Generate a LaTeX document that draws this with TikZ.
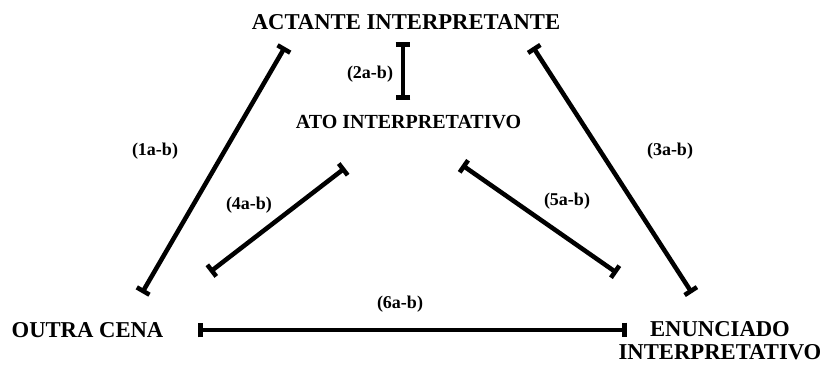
\documentclass[tikz,border=0pt]{standalone}
\usepackage{fontspec}
\setmainfont{Liberation Serif}
\usetikzlibrary{arrows.meta}

\begin{document}
\begin{tikzpicture}[x=0.75pt,y=-0.75pt,
  big/.style={font=\fontsize{17}{17.25}\selectfont\bfseries,inner sep=0pt},
  mid/.style={font=\fontsize{15}{17}\selectfont\bfseries,inner sep=0pt},
  lab/.style={font=\fontsize{13.5}{15}\selectfont\bfseries,inner sep=0pt},
  link/.style={line width=3.4pt,{Bar[width=11pt]}-{Bar[width=11pt]}}]
  \useasboundingbox (0,0) rectangle (826,365);
  \node[big] (V-1) at (406,22.5) {ACTANTE INTERPRETANTE};
  \node[mid] (V-2) at (408.5,122) {ATO INTERPRETATIVO};
  \node[big] (V-3) at (87.5,330.5) {OUTRA CENA};
  \node[big,align=center] (V-4) at (720,341) {ENUNCIADO\\INTERPRETATIVO};
  \coordinate (E-1a) at (285,47);
  \coordinate (E-1b) at (142,293);
  \coordinate (E-2a) at (403,42);
  \coordinate (E-2b) at (403,100);
  \coordinate (E-3a) at (533,47);
  \coordinate (E-3b) at (692,293);
  \coordinate (E-4a) at (345,168);
  \coordinate (E-4b) at (210,272);
  \coordinate (E-5a) at (462,165);
  \coordinate (E-5b) at (617,273);
  \coordinate (E-6a) at (198,330);
  \coordinate (E-6b) at (627,330);
  \draw[link] (E-1a) -- (E-1b);
  \draw[link] (E-2a) -- (E-2b);
  \draw[link] (E-3a) -- (E-3b);
  \draw[link] (E-4a) -- (E-4b);
  \draw[link] (E-5a) -- (E-5b);
  \draw[link] (E-6a) -- (E-6b);
  \node[lab] (L-1) at (155,151) {(1a-b)};
  \node[lab] (L-2) at (370,74) {(2a-b)};
  \node[lab] (L-3) at (670,151) {(3a-b)};
  \node[lab] (L-4) at (249,205) {(4a-b)};
  \node[lab] (L-5) at (567,201) {(5a-b)};
  \node[lab] (L-6) at (400,304) {(6a-b)};
\end{tikzpicture}
\end{document}
